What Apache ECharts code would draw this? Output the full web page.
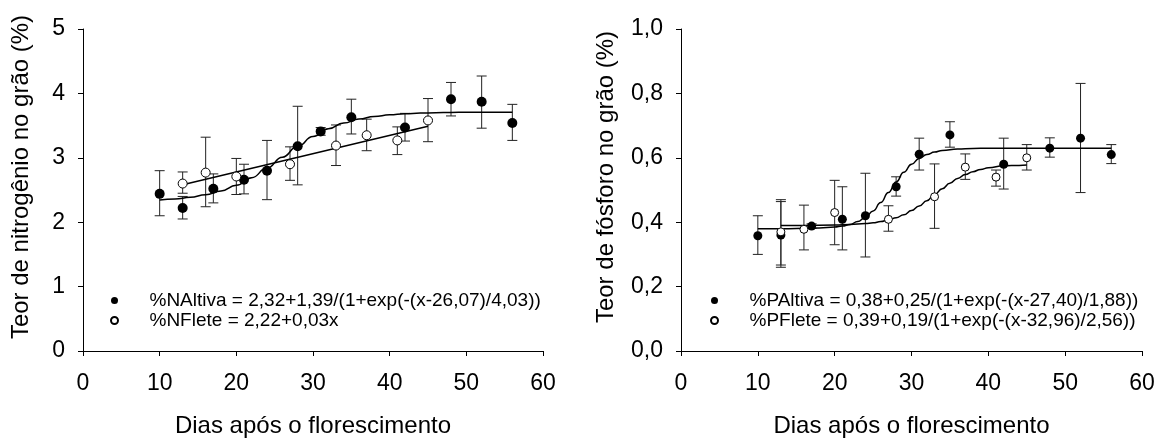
<!DOCTYPE html>
<html>
<head>
<meta charset="utf-8">
<script src="https://cdn.jsdelivr.net/npm/echarts@6/dist/echarts.min.js"></script>
<style>
html,body{margin:0;padding:0;background:#fff;}
#chart{width:1157px;height:439px;}
</style>
</head>
<body>
<div id="chart"></div>
<script>
// ---------- Nitrogen (left panel) ----------
const nAltivaDays = [10, 13, 17, 21, 24, 28, 31, 35, 42, 48, 52, 56];
const nAltiva     = [2.44, 2.22, 2.52, 2.66, 2.80, 3.18, 3.41, 3.63, 3.47, 3.91, 3.87, 3.54];
const nAltivaLow  = [2.10, 2.05, 2.30, 2.44, 2.35, 2.58, 3.35, 3.37, 3.26, 3.65, 3.46, 3.27];
const nAltivaHigh = [2.80, 2.40, 2.75, 2.90, 3.27, 3.80, 3.47, 3.91, 3.69, 4.17, 4.27, 3.83];

const nFleteDays = [13, 16, 20, 27, 33, 37, 41, 45];
const nFlete     = [2.60, 2.77, 2.71, 2.90, 3.19, 3.35, 3.27, 3.58];
const nFleteLow  = [2.45, 2.24, 2.43, 2.65, 2.88, 3.11, 3.05, 3.25];
const nFleteHigh = [2.78, 3.32, 2.99, 3.17, 3.51, 3.60, 3.48, 3.92];

const nAltivaFitX = [10, 12, 14, 16, 18, 20, 22, 24, 26, 28, 30, 32, 34, 36, 38, 40, 42, 44, 46, 48, 50, 52, 54, 56];
const nAltivaFitY = [2.345, 2.361, 2.386, 2.426, 2.485, 2.572, 2.691, 2.840, 3.009, 3.178, 3.329, 3.450, 3.540, 3.601, 3.642, 3.667, 3.684, 3.694, 3.700, 3.704, 3.707, 3.708, 3.709, 3.709];
const nFleteFitX = [13, 45];
const nFleteFitY = [2.58, 3.49];

// ---------- Phosphorus (right panel) ----------
const pAltivaDays = [10, 13, 17, 21, 24, 28, 31, 35, 42, 48, 52, 56];
const pAltiva     = [0.358, 0.360, 0.388, 0.409, 0.420, 0.510, 0.611, 0.671, 0.580, 0.630, 0.661, 0.610];
const pAltivaLow  = [0.300, 0.260, 0.381, 0.314, 0.292, 0.481, 0.562, 0.633, 0.503, 0.602, 0.492, 0.582];
const pAltivaHigh = [0.420, 0.470, 0.395, 0.510, 0.552, 0.541, 0.661, 0.712, 0.661, 0.662, 0.831, 0.641];

const pFleteDays = [13, 16, 20, 27, 33, 37, 41, 45];
const pFlete     = [0.370, 0.378, 0.430, 0.409, 0.479, 0.571, 0.540, 0.600];
const pFleteLow  = [0.267, 0.314, 0.330, 0.372, 0.381, 0.533, 0.512, 0.562];
const pFleteHigh = [0.464, 0.453, 0.530, 0.451, 0.581, 0.612, 0.562, 0.641];

const pAltivaFitX = [10, 14, 18, 20, 21, 22, 23, 24, 25, 26, 27, 28, 29, 30, 31, 32, 33, 34, 36, 38, 40, 44, 48, 52, 56];
const pAltivaFitY = [0.380, 0.380, 0.382, 0.385, 0.388, 0.393, 0.402, 0.415, 0.435, 0.461, 0.492, 0.525, 0.555, 0.580, 0.598, 0.610, 0.618, 0.623, 0.627, 0.629, 0.630, 0.630, 0.630, 0.630, 0.630];
const pFleteFitX = [13, 16, 20, 22, 24, 25, 26, 27, 28, 29, 30, 31, 32, 33, 34, 35, 36, 37, 38, 39, 40, 42, 43, 45];
const pFleteFitY = [0.390, 0.390, 0.391, 0.393, 0.396, 0.398, 0.402, 0.407, 0.414, 0.423, 0.436, 0.450, 0.467, 0.486, 0.504, 0.521, 0.536, 0.548, 0.557, 0.564, 0.569, 0.575, 0.576, 0.578];

// ---------- Text ----------
const xTitle = 'Dias após o florescimento';
const yTitleN = 'Teor de nitrogênio no grão (%)';
const yTitleP = 'Teor de fósforo no grão (%)';
const nameNAltiva = '%NAltiva = 2,32+1,39/(1+exp(-(x-26,07)/4,03))';
const nameNFlete = '%NFlete = 2,22+0,03x';
const namePAltiva = '%PAltiva = 0,38+0,25/(1+exp(-(x-27,40)/1,88))';
const namePFlete = '%PFlete = 0,39+0,19/(1+exp(-(x-32,96)/2,56))';

const FONT = "'Liberation Sans', Arial, sans-serif";
const zip = (a, b) => a.map((v, i) => [v, b[i]]);
const zip3 = (a, b, c) => a.map((v, i) => [v, b[i], c[i]]);

function errRender(params, api) {
  const x = api.value(0), lo = api.value(1), hi = api.value(2);
  const pLo = api.coord([x, lo]);
  const pHi = api.coord([x, hi]);
  const w = 5;
  const st = { stroke: '#222', lineWidth: 1 };
  return {
    type: 'group',
    children: [
      { type: 'line', shape: { x1: pLo[0], y1: pLo[1], x2: pHi[0], y2: pHi[1] }, style: st },
      { type: 'line', shape: { x1: pLo[0] - w, y1: pLo[1], x2: pLo[0] + w, y2: pLo[1] }, style: st },
      { type: 'line', shape: { x1: pHi[0] - w, y1: pHi[1], x2: pHi[0] + w, y2: pHi[1] }, style: st }
    ]
  };
}

function xAxisCfg(idx) {
  return {
    type: 'value', gridIndex: idx, min: 0, max: 60, interval: 10,
    name: xTitle, nameLocation: 'middle', nameGap: 63,
    nameTextStyle: { fontFamily: FONT, fontSize: 24, color: '#000' },
    axisLine: { show: true, onZero: false, lineStyle: { color: '#000', width: 1 } },
    axisTick: { show: true, inside: false, length: 5, lineStyle: { color: '#000' } },
    axisLabel: { fontFamily: FONT, fontSize: 23, color: '#000', margin: 21 },
    splitLine: { show: false }
  };
}

const chart = echarts.init(document.getElementById('chart'), null, { renderer: 'canvas' });
const option = {
  animation: false,
  backgroundColor: '#fff',
  grid: [
    { left: 83, top: 29, width: 460, height: 322, containLabel: false, outerBoundsMode: 'none' },
    { left: 681, top: 29, width: 461, height: 322, containLabel: false, outerBoundsMode: 'none' }
  ],
  xAxis: [xAxisCfg(0), xAxisCfg(1)],
  yAxis: [
    {
      type: 'value', gridIndex: 0, min: 0, max: 5, interval: 1,
      name: yTitleN, nameLocation: 'middle', nameGap: 50,
      nameTextStyle: { fontFamily: FONT, fontSize: 24, color: '#000', padding: [0, 0, 0, 26] },
      axisLine: { show: true, lineStyle: { color: '#000', width: 1 } },
      axisTick: { show: true, length: 5, lineStyle: { color: '#000' } },
      axisLabel: { fontFamily: FONT, fontSize: 23, color: '#000', margin: 18 },
      splitLine: { show: false }
    },
    {
      type: 'value', gridIndex: 1, min: 0, max: 1, interval: 0.2,
      name: yTitleP, nameLocation: 'middle', nameGap: 63,
      nameTextStyle: { fontFamily: FONT, fontSize: 24, color: '#000', padding: [0, 0, 0, 26] },
      axisLine: { show: true, lineStyle: { color: '#000', width: 1 } },
      axisTick: { show: true, length: 5, lineStyle: { color: '#000' } },
      axisLabel: { fontFamily: FONT, fontSize: 23, color: '#000', margin: 18,
        formatter: v => v.toFixed(1).replace('.', ',') },
      splitLine: { show: false }
    }
  ],
  legend: [
    {
      left: 105, top: 286, orient: 'vertical', itemGap: 1,
      itemWidth: 60, itemHeight: 7, icon: 'circle',
      data: [nameNAltiva, nameNFlete],
      textStyle: { fontFamily: FONT, fontSize: 19, color: '#000' },
      selectedMode: false
    },
    {
      left: 705, top: 286, orient: 'vertical', itemGap: 1,
      itemWidth: 60, itemHeight: 7, icon: 'circle',
      data: [namePAltiva, namePFlete],
      textStyle: { fontFamily: FONT, fontSize: 19, color: '#000' },
      selectedMode: false
    }
  ],
  series: [
    // left panel
    { type: 'custom', name: 'errNA', xAxisIndex: 0, yAxisIndex: 0, renderItem: errRender,
      encode: { x: 0, y: [1, 2] }, data: zip3(nAltivaDays, nAltivaLow, nAltivaHigh), z: 1 },
    { type: 'custom', name: 'errNF', xAxisIndex: 0, yAxisIndex: 0, renderItem: errRender,
      encode: { x: 0, y: [1, 2] }, data: zip3(nFleteDays, nFleteLow, nFleteHigh), z: 1 },
    { type: 'line', name: 'fitNA', xAxisIndex: 0, yAxisIndex: 0, data: zip(nAltivaFitX, nAltivaFitY),
      showSymbol: false, smooth: true, smoothMonotone: 'x', lineStyle: { color: '#000', width: 1.5 }, z: 2 },
    { type: 'line', name: 'fitNF', xAxisIndex: 0, yAxisIndex: 0, data: zip(nFleteFitX, nFleteFitY),
      showSymbol: false, lineStyle: { color: '#000', width: 1.5 }, z: 2 },
    { type: 'scatter', name: nameNAltiva, xAxisIndex: 0, yAxisIndex: 0, data: zip(nAltivaDays, nAltiva),
      symbol: 'circle', symbolSize: 10, itemStyle: { color: '#000', opacity: 1 }, z: 3 },
    { type: 'scatter', name: nameNFlete, xAxisIndex: 0, yAxisIndex: 0, data: zip(nFleteDays, nFlete),
      symbol: 'circle', symbolSize: 9, itemStyle: { color: '#fff', borderColor: '#000', borderWidth: 1, opacity: 1 }, z: 3 },
    // right panel
    { type: 'custom', name: 'errPA', xAxisIndex: 1, yAxisIndex: 1, renderItem: errRender,
      encode: { x: 0, y: [1, 2] }, data: zip3(pAltivaDays, pAltivaLow, pAltivaHigh), z: 1 },
    { type: 'custom', name: 'errPF', xAxisIndex: 1, yAxisIndex: 1, renderItem: errRender,
      encode: { x: 0, y: [1, 2] }, data: zip3(pFleteDays, pFleteLow, pFleteHigh), z: 1 },
    { type: 'line', name: 'fitPA', xAxisIndex: 1, yAxisIndex: 1, data: zip(pAltivaFitX, pAltivaFitY),
      showSymbol: false, smooth: true, smoothMonotone: 'x', lineStyle: { color: '#000', width: 1.5 }, z: 2 },
    { type: 'line', name: 'fitPF', xAxisIndex: 1, yAxisIndex: 1, data: zip(pFleteFitX, pFleteFitY),
      showSymbol: false, smooth: true, smoothMonotone: 'x', lineStyle: { color: '#000', width: 1.5 }, z: 2 },
    { type: 'scatter', name: namePAltiva, xAxisIndex: 1, yAxisIndex: 1, data: zip(pAltivaDays, pAltiva),
      symbol: 'circle', symbolSize: 9, itemStyle: { color: '#000', opacity: 1 }, z: 3 },
    { type: 'scatter', name: namePFlete, xAxisIndex: 1, yAxisIndex: 1, data: zip(pFleteDays, pFlete),
      symbol: 'circle', symbolSize: 8, itemStyle: { color: '#fff', borderColor: '#000', borderWidth: 1, opacity: 1 }, z: 3 }
  ]
};
chart.setOption(option);
</script>
</body>
</html>
